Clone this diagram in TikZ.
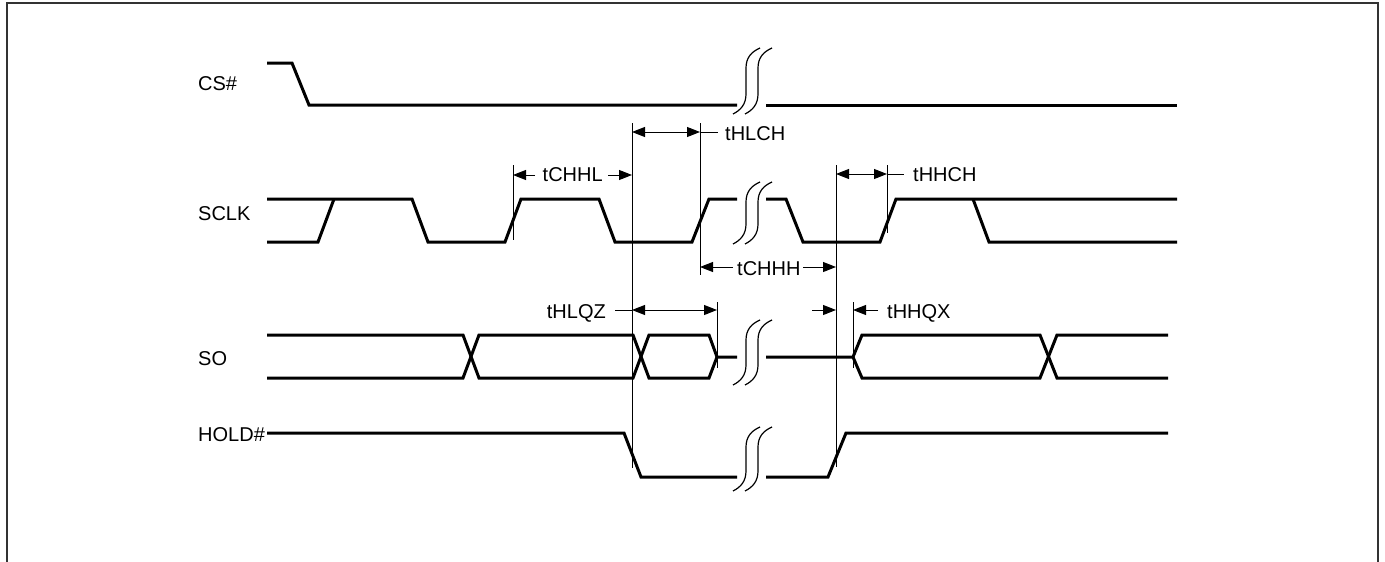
\documentclass[tikz,border=0pt]{standalone}
\usepackage{fontspec}
\setmainfont{Liberation Sans}
\usetikzlibrary{arrows.meta}
\tikzset{
  sig/.style={line width=3pt, line join=miter, line cap=butt, black},
  thin/.style={line width=1pt, black},
  brkline/.style={line width=1.2pt, black},
  dim/.style={line width=1pt, black, -{Triangle[length=13pt,width=10pt]}},
  ddim/.style={line width=1pt, black, {Triangle[length=13pt,width=10pt]}-{Triangle[length=13pt,width=10pt]}},
  lbl/.style={inner sep=0pt, anchor=base west, font=\fontsize{20}{24}\selectfont},
  lble/.style={inner sep=0pt, anchor=base east, font=\fontsize{20}{24}\selectfont},
  frame/.style={line width=1.4pt, black!80}
}
\newcommand\brkmark[3]{%
  \draw[brkline] (#1,#3) .. controls (#1+8,#3-4) and (#1+13,#3-10) .. (#1+13,#3-20)
     -- (#1+13,#2+20) .. controls (#1+13,#2+10) and (#1+18,#2+4) .. (#1+27,#2);}
\newcommand\brkpair[2]{\brkmark{733}{#1}{#2}\brkmark{745}{#1}{#2}}
\begin{document}
\begin{tikzpicture}[x=1pt,y=-1pt]
\useasboundingbox (0,0) rectangle (1385,562);
% frame (open at bottom)
\draw[frame] (7,562) -- (7,3) -- (1378,3) -- (1378,562);

% signal labels
\node[lbl] (lcs) at (198,90) {CS\#};
\node[lbl] (lsclk) at (198,220.7) {SCLK};
\node[lbl] (lso) at (198,365.7) {SO};
\node[lbl] (lhold) at (198,441.5) {HOLD\#};

% CS#
\draw[sig] (267,63) -- (292,63) -- (309,105) -- (737,105);
\draw[sig] (766,105) -- (1177,105);
\brkpair{48}{114}

% SCLK
\draw[sig] (267,199) -- (412,199) -- (428,242) -- (505,242) -- (521,199) -- (599,199)
  -- (615,242) -- (692,242) -- (709,199) -- (737,199);
\draw[sig] (267,242) -- (318,242) -- (334,199);
\draw[sig] (766,199) -- (786,199) -- (803,242) -- (880,242) -- (896,199) -- (1177,199);
\draw[sig] (973,199) -- (989,242) -- (1177,242);
\brkpair{182}{244}

% SO
\draw[sig] (267,335) -- (463,335) -- (479,378) -- (633,378) -- (649,335) -- (709,335) -- (717,357) -- (737,357);
\draw[sig] (267,378) -- (463,378) -- (479,335) -- (633,335) -- (649,378) -- (709,378) -- (717,357);
\draw[sig] (766,357) -- (853,357) -- (862,335) -- (1040,335) -- (1057,378) -- (1168,378);
\draw[sig] (853,357) -- (862,378) -- (1040,378) -- (1057,335) -- (1168,335);
\brkpair{320}{385}

% HOLD#
\draw[sig] (267,433) -- (624,433) -- (641,477) -- (737,477);
\draw[sig] (766,477) -- (828,477) -- (846,433) -- (1168,433);
\brkpair{427}{491}

% timing reference lines
\coordinate (v1t) at (632,123); \coordinate (v1b) at (632,468);
\coordinate (v2t) at (700,123); \coordinate (v2b) at (700,275);
\coordinate (v3t) at (836,165); \coordinate (v3b) at (836,467);
\coordinate (v4t) at (887,165); \coordinate (v4b) at (887,233);
\coordinate (v5t) at (513,165); \coordinate (v5b) at (513,240);
\coordinate (v6t) at (717,302); \coordinate (v6b) at (717,368);
\coordinate (v7t) at (853,302); \coordinate (v7b) at (853,368);
\draw[thin] (v1t) -- (v1b);
\draw[thin] (v2t) -- (v2b);
\draw[thin] (v3t) -- (v3b);
\draw[thin] (v4t) -- (v4b);
\draw[thin] (v5t) -- (v5b);
\draw[thin] (v6t) -- (v6b);
\draw[thin] (v7t) -- (v7b);

% tHLCH
\coordinate (a1) at (632,132); \coordinate (a2) at (700,132); \coordinate (a3) at (718,132);
\draw[ddim] (a1) -- (a2);
\draw[thin] (a2) -- (a3);
\node[lbl] (tHLCH) at (725,140) {tHLCH};

% tCHHL
\node[lbl] (tCHHL) at (542.5,181.7) {tCHHL};
\coordinate (b1) at (535,175); \coordinate (b2) at (513,175);
\coordinate (b3) at (608,175); \coordinate (b4) at (632,175);
\draw[dim] (b1) -- (b2);
\draw[dim] (b3) -- (b4);

% tHHCH
\coordinate (c1) at (836,174); \coordinate (c2) at (887,174); \coordinate (c3) at (904,174);
\draw[ddim] (c1) -- (c2);
\draw[thin] (c2) -- (c3);
\node[lbl] (tHHCH) at (913,181.7) {tHHCH};

% tCHHH
\node[lbl] (tCHHH) at (737,275.7) {tCHHH};
\coordinate (d1) at (733,267); \coordinate (d2) at (700,267);
\coordinate (d3) at (803,267); \coordinate (d4) at (836,267);
\draw[dim] (d1) -- (d2);
\draw[dim] (d3) -- (d4);

% tHLQZ
\node[lble] (tHLQZ) at (606,318) {tHLQZ};
\coordinate (e1) at (615,310); \coordinate (e2) at (632,310); \coordinate (e3) at (717,310);
\draw[thin] (e1) -- (e2);
\draw[ddim] (e2) -- (e3);

% tHHQX
\coordinate (f1) at (812,310); \coordinate (f2) at (836,310);
\coordinate (f3) at (878,310); \coordinate (f4) at (853,310);
\draw[dim] (f1) -- (f2);
\draw[dim] (f3) -- (f4);
\node[lbl] (tHHQX) at (887,318) {tHHQX};
\end{tikzpicture}
\end{document}
